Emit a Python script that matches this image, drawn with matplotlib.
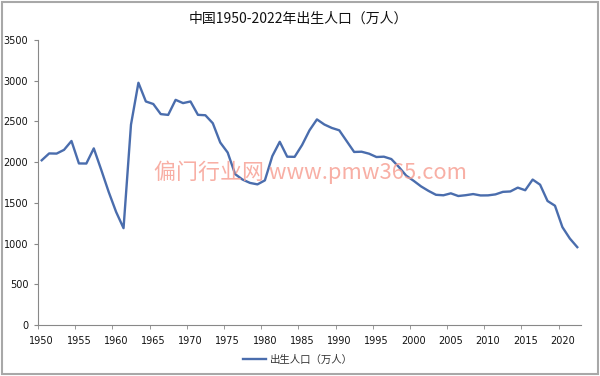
import matplotlib
matplotlib.use('Agg')
import matplotlib.pyplot as plt
from matplotlib.ticker import FixedLocator, NullFormatter

plt.rcParams['font.family'] = ['Noto Sans CJK SC', 'DejaVu Sans']

# births per year (10k persons), 1950-2022
years = list(range(1950, 2023))
births = [2023, 2107, 2105, 2151, 2260, 1984, 1983, 2169, 1906, 1635,
          1389, 1189, 2460, 2975, 2745, 2714, 2590, 2580, 2765, 2725,
          2745, 2581, 2576, 2478, 2241, 2118, 1853, 1786, 1745, 1727,
          1776, 2074, 2250, 2067, 2065, 2210, 2391, 2525, 2462, 2420,
          2391, 2258, 2125, 2128, 2104, 2063, 2067, 2038, 1942, 1834,
          1771, 1702, 1647, 1599, 1593, 1617, 1584, 1594, 1608, 1591,
          1592, 1604, 1635, 1640, 1687, 1655, 1786, 1723, 1523, 1465,
          1202, 1062, 956]
xlabels = list(range(1950, 2021, 5))

fig = plt.figure(figsize=(6, 3.76), dpi=100)
ax = fig.add_axes([38/600, 1-325/376, (581-38)/600, (325-40)/376])

ax.plot(years, births, color='#4a6dad', lw=1.7, label='出生人口（万人）', zorder=3)

ax.set_xlim(1949.5, 2022.5)
ax.set_ylim(0, 3500)
ax.set_yticks(range(0, 3501, 500))
ax.set_xticks(xlabels)
ax.set_xticklabels([str(y) for y in xlabels])
ax.xaxis.set_minor_locator(FixedLocator([y - 0.5 for y in xlabels]))
ax.xaxis.set_minor_formatter(NullFormatter())
ax.tick_params(axis='x', which='major', length=0, pad=8, labelsize=7, labelcolor='#111111')
ax.tick_params(axis='x', which='minor', length=3, color='#888888')
ax.tick_params(axis='y', length=3, color='#888888', labelsize=7, labelcolor='#111111', pad=4)
for lab in ax.get_xticklabels() + ax.get_yticklabels():
    lab.set_family('DejaVu Sans')

for s in ['top', 'right']:
    ax.spines[s].set_visible(False)
for s in ['left', 'bottom']:
    ax.spines[s].set_color('#888888')
    ax.spines[s].set_linewidth(0.8)

fig.text(0.497, 1-19/376, '中国1950-2022年出生人口（万人）', ha='center', va='center',
         fontsize=10, color='#111111', fontweight='medium')

# watermark
fig.text(310/600, 1-172/376, '偏门行业网 www.pmw365.com', ha='center', va='center',
         fontsize=15.8, color='#f7a195', alpha=0.85, fontweight='medium')

leg = fig.legend(loc='center', bbox_to_anchor=(298/600, 1-360/376), frameon=False,
                 fontsize=7.5, handlelength=2.2, handletextpad=0.3)
for t in leg.get_texts():
    t.set_color('#333333')

# outer frame
fig.patches.append(plt.Rectangle((0.003, 0.004), 0.993, 0.992, transform=fig.transFigure,
                                 fill=False, edgecolor='#a8a8a8', lw=1.5))

fig.savefig('out.png', dpi=100)
